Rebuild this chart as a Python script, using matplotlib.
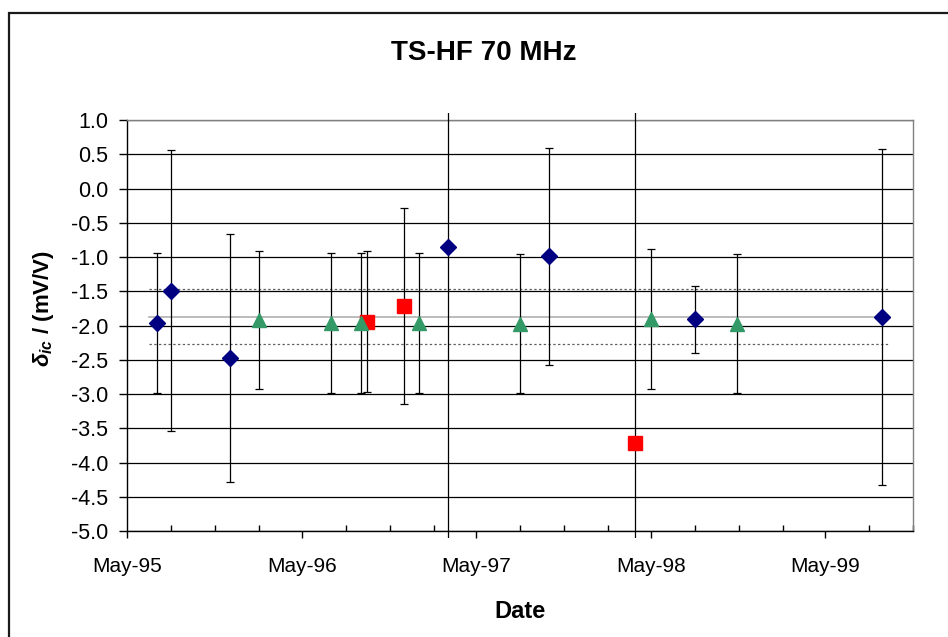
import matplotlib
matplotlib.use('Agg')
import matplotlib.pyplot as plt
import matplotlib.dates as mdates
import numpy as np
from matplotlib import font_manager
from matplotlib.patches import Rectangle
from matplotlib.ticker import MultipleLocator, FormatStrFormatter

# calibration results, grouped by marker series
diamond_dates = ['1995-07-03', '1995-08-02', '1995-12-03', '1997-03-02',
                 '1997-10-01', '1998-08-01', '1999-08-29']
diamond_vals = [-1.96, -1.49, -2.47, -0.85, -0.99, -1.91, -1.88]
diamond_err = [1.02, 2.05, 1.81, 10.0, 1.58, 0.49, 2.45]

square_dates = ['1996-09-15', '1996-11-30', '1998-03-29']
square_vals = [-1.945, -1.72, -3.71]
square_err = [1.03, 1.43, 10.0]

triangle_dates = ['1996-02-02', '1996-06-30', '1996-09-01', '1997-01-02',
                  '1997-08-01', '1998-05-01', '1998-10-29']
triangle_vals = [-1.92, -1.96, -1.96, -1.96, -1.975, -1.905, -1.975]
triangle_err = [1.01, 1.02, 1.02, 1.02, 1.015, 1.015, 1.015]

# weighted mean and its band
ref_span = ['1995-06-15', '1999-09-12']
ref_mean = -1.87
ref_band = 0.40

W, H = 948, 637
names = {f.name for f in font_manager.fontManager.ttflist}
FONT = 'Liberation Sans Narrow' if 'Liberation Sans Narrow' in names else 'Liberation Sans'
plt.rcParams['font.family'] = [FONT, 'DejaVu Sans']
plt.rcParams['mathtext.fontset'] = 'custom'
plt.rcParams['mathtext.it'] = FONT + ':italic:bold'
plt.rcParams['mathtext.rm'] = FONT + ':bold'


def dt(seq):
    return np.array(seq, dtype='datetime64[D]')


fig = plt.figure(figsize=(W / 100, H / 100), dpi=100)
ax = fig.add_axes([127 / W, 1 - 531 / H, 786 / W, 411 / H])

# chart frame (runs off the right and bottom edges)
fig.patches.append(Rectangle((9 / W, -0.1), 1.2, 1 - 13 / H + 0.1,
                             transform=fig.transFigure, fill=False,
                             edgecolor='#1a1a1a', linewidth=1.6))

# mean line and dotted band
span = dt(ref_span)
ax.plot(span, [ref_mean] * 2, color='#b0b0b0', lw=1.2, zorder=2)
for off in (-ref_band, ref_band):
    ax.plot(span, [ref_mean + off] * 2, color='#606060', lw=0.9,
            dashes=(1.9, 1.9), zorder=2)

series = [
    (diamond_dates, diamond_vals, diamond_err, 'D', '#000080', 8.3),
    (square_dates, square_vals, square_err, 's', '#ff0000', 9.5),
    (triangle_dates, triangle_vals, triangle_err, '^', '#339966', 10),
]
for i, (d, v, e, mk, col, ms) in enumerate(series):
    cont = ax.errorbar(dt(d), v, yerr=e, fmt='none', ecolor='black',
                       elinewidth=0.9, capsize=2.6, capthick=0.9, zorder=3)
    for lc in cont[2]:
        lc.set_clip_path(Rectangle((0, -0.017), 1, 1.034,
                                   transform=ax.transAxes))
    ax.plot(dt(d), v, ls='none', marker=mk, ms=ms, color=col,
            markeredgecolor=col, zorder=4 + i)

ax.set_ylim(-5.0, 1.0)
ax.set_xlim(np.datetime64('1995-05-01'), np.datetime64('1999-11-01'))
ax.yaxis.set_major_locator(MultipleLocator(0.5))
ax.yaxis.set_major_formatter(FormatStrFormatter('%.1f'))
ax.xaxis.set_major_locator(mdates.YearLocator(1, month=5, day=1))
ax.xaxis.set_minor_locator(mdates.MonthLocator(bymonth=[2, 5, 8, 11]))
ax.xaxis.set_major_formatter(mdates.DateFormatter('%b-%y'))

ax.yaxis.grid(True, color='black', lw=0.9, zorder=1)
ax.set_axisbelow(True)
for s in ('top', 'right'):
    ax.spines[s].set_color('#808080')
    ax.spines[s].set_linewidth(1.0)
for s in ('left', 'bottom'):
    ax.spines[s].set_color('black')
    ax.spines[s].set_linewidth(1.0)

ax.tick_params(axis='y', direction='out', length=5.5, width=1, pad=8,
               labelsize=15.5)
ax.tick_params(axis='x', which='major', direction='out', length=5, width=1,
               pad=14, labelsize=15)
ax.tick_params(axis='x', which='minor', direction='in', length=4, width=1)

fig.text(484 / W, 1 - 53 / H, 'TS-HF 70 MHz', ha='center', va='center',
         fontsize=20, fontweight='bold')
fig.text(520 / W, 1 - 612 / H, 'Date', ha='center', va='center',
         fontsize=17, fontweight='bold')
fig.text(43 / W, 1 - 308 / H, r'$\delta_{ic}$ / (mV/V)', ha='center',
         va='center', rotation=90, fontsize=16, fontweight='bold')

fig.savefig('out.png', dpi=100)
